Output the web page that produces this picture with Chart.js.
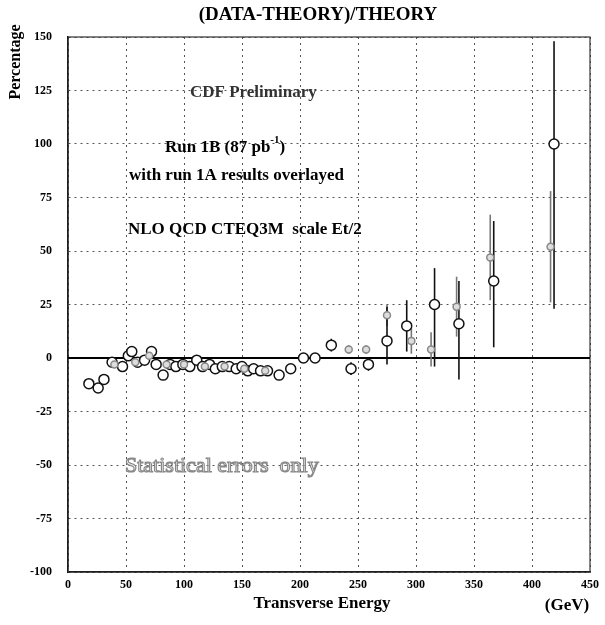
<!DOCTYPE html>
<html>
<head>
<meta charset="utf-8">
<script src="https://cdn.jsdelivr.net/npm/chart.js@4/dist/chart.umd.min.js"></script>
<style>
  html, body { margin: 0; padding: 0; background: #fff; }
  #wrap { width: 605px; height: 625px; }
</style>
</head>
<body>
<div id="wrap"><canvas id="c" width="605" height="625"></canvas></div>
<script>
// Run 1B (open circles)
var run1bEt  = [18, 26, 31, 38, 47, 52, 55, 60, 66, 72, 76, 82, 88, 93, 99, 105, 111, 116, 122, 127, 133, 139, 145, 150, 155, 160, 166, 172, 182, 192, 203, 213, 227, 244, 259, 275, 292, 316, 337, 367, 419];
var run1bVal = [-12, -14, -10, -2, -4, 1, 3, -2, -1, 3, -3, -8, -3, -4, -3, -4, -1, -4, -3, -5, -4, -4, -5, -4, -6, -5, -6, -6, -8, -5, 0, 0, 6, -5, -3, 8, 15, 25, 16, 36, 100];
var run1bLo  = [2, 2, 2, 1, 1, 1, 1, 1, 1, 1, 1, 1, 1, 1, 1, 1, 1, 1, 1, 1, 1, 1, 1, 1, 1, 1, 1, 1, 1, 1, 1, 2, 3, 3, 3, 11, 12, 29, 26, 31, 77];
var run1bHi  = [2, 2, 2, 1, 1, 1, 1, 1, 1, 1, 1, 1, 1, 1, 1, 1, 1, 1, 1, 1, 1, 1, 1, 1, 1, 1, 1, 1, 1, 1, 1, 2, 3, 3, 3, 16, 12, 17, 20, 28, 48];
// Run 1A (grey)
var run1aEt  = [40, 58, 70, 85, 100, 118, 135, 152, 170, 242, 257, 275, 296, 313, 335, 364, 416];
var run1aVal = [-3, -2, 1, -3, -3, -4, -4, -5, -6, 4, 4, 20, 8, 4, 24, 47, 52];
var run1aErr = [1, 1, 1, 1, 1, 1, 1, 1, 1, 2, 2, 5, 6, 8, 14, 20, 26];

var xTicks = [0, 50, 100, 150, 200, 250, 300, 350, 400, 450];
var yTicks = [-100, -75, -50, -25, 0, 25, 50, 75, 100, 125, 150];

function pts(xs, ys) { return xs.map(function (x, i) { return { x: x, y: ys[i] }; }); }

var serif = "'Liberation Serif', 'DejaVu Serif', serif";

var errorBars = {
  id: 'errorBars',
  beforeDatasetsDraw: function (chart) {
    var ctx = chart.ctx, xs = chart.scales.x, ys = chart.scales.y, a = chart.chartArea;
    var sets = [[run1aEt, run1aVal, run1aErr, run1aErr, '#777'], [run1bEt, run1bVal, run1bLo, run1bHi, '#111']];
    ctx.save();
    // frame
    ctx.strokeStyle = '#333'; ctx.lineWidth = 1.2;
    ctx.strokeRect(a.left, a.top, a.right - a.left, a.bottom - a.top);
    // zero line
    ctx.strokeStyle = '#000'; ctx.lineWidth = 2;
    ctx.beginPath();
    ctx.moveTo(a.left, ys.getPixelForValue(0));
    ctx.lineTo(a.right, ys.getPixelForValue(0));
    ctx.stroke();
    sets.forEach(function (s) {
      ctx.strokeStyle = s[4]; ctx.lineWidth = 1.6;
      s[0].forEach(function (x, i) {
        var px = xs.getPixelForValue(x);
        ctx.beginPath();
        ctx.moveTo(px, ys.getPixelForValue(s[1][i] - s[2][i]));
        ctx.lineTo(px, ys.getPixelForValue(s[1][i] + s[3][i]));
        ctx.stroke();
      });
    });
    ctx.restore();
  },
  afterDraw: function (chart) {
    var ctx = chart.ctx;
    ctx.save();
    ctx.fillStyle = '#000';
    ctx.textBaseline = 'middle';
    ctx.font = 'bold 19px ' + serif;
    ctx.textAlign = 'center';
    ctx.fillText('(DATA-THEORY)/THEORY', 318, 15);
    ctx.font = 'bold 17px ' + serif;
    ctx.fillText('Transverse Energy', 322, 604);
    ctx.fillText('(GeV)', 567, 606);
    ctx.save();
    ctx.translate(16, 62);
    ctx.rotate(-Math.PI / 2);
    ctx.font = 'bold 16px ' + serif;
    ctx.fillText('Percentage', 0, 0);
    ctx.restore();
    ctx.textAlign = 'left';
    ctx.font = 'bold 17px ' + serif;
    ctx.fillStyle = '#333';
    ctx.fillText('CDF Preliminary', 190, 93);
    ctx.fillStyle = '#000';
    ctx.fillText('Run 1B (87 pb', 165, 148);
    var w = ctx.measureText('Run 1B (87 pb').width;
    ctx.font = 'bold 11px ' + serif;
    ctx.fillText('-1', 165 + w, 140);
    var w2 = ctx.measureText('-1').width;
    ctx.font = 'bold 17px ' + serif;
    ctx.fillText(')', 165 + w + w2, 148);
    ctx.fillText('with run 1A results overlayed', 129, 176);
    ctx.fillText('NLO QCD CTEQ3M  scale Et/2', 128, 230);
    ctx.font = '22px ' + serif;
    ctx.strokeStyle = '#888';
    ctx.lineWidth = 1.2;
    ctx.strokeText('Statistical errors  only', 125, 466);
    ctx.restore();
  }
};

new Chart(document.getElementById('c'), {
  type: 'scatter',
  data: {
    datasets: [
      { label: 'Run 1A', data: pts(run1aEt, run1aVal), pointStyle: 'circle', pointRadius: 3.5,
        borderColor: '#888', backgroundColor: '#ddd', borderWidth: 1.5 },
      { label: 'Run 1B', data: pts(run1bEt, run1bVal), pointStyle: 'circle', pointRadius: 5,
        borderColor: '#111', backgroundColor: '#fff', borderWidth: 1.5 }
    ]
  },
  plugins: [errorBars],
  options: {
    responsive: false, animation: false,
    layout: { padding: { top: 37, right: 8, left: 0, bottom: 0 } },
    plugins: { legend: { display: false }, tooltip: { enabled: false } },
    scales: {
      x: {
        type: 'linear', min: 0, max: 450,
        afterBuildTicks: function (s) { s.ticks = xTicks.map(function (v) { return { value: v }; }); },
        afterFit: function (s) { s.height = 53; },
        grid: { color: '#555', lineWidth: 1, drawTicks: false },
        border: { color: '#000', width: 1.5, dash: [2, 4] },
        ticks: { color: '#000', font: { family: serif, weight: 'bold', size: 12 }, padding: 6, maxRotation: 0 }
      },
      y: {
        min: -100, max: 150,
        afterBuildTicks: function (s) { s.ticks = yTicks.map(function (v) { return { value: v }; }); },
        afterFit: function (s) { s.width = 68; },
        grid: { color: '#555', lineWidth: 1, drawTicks: false },
        border: { color: '#000', width: 1.5, dash: [2, 4] },
        ticks: { color: '#000', font: { family: serif, weight: 'bold', size: 12 }, padding: 16 }
      }
    }
  }
});
</script>
</body>
</html>
